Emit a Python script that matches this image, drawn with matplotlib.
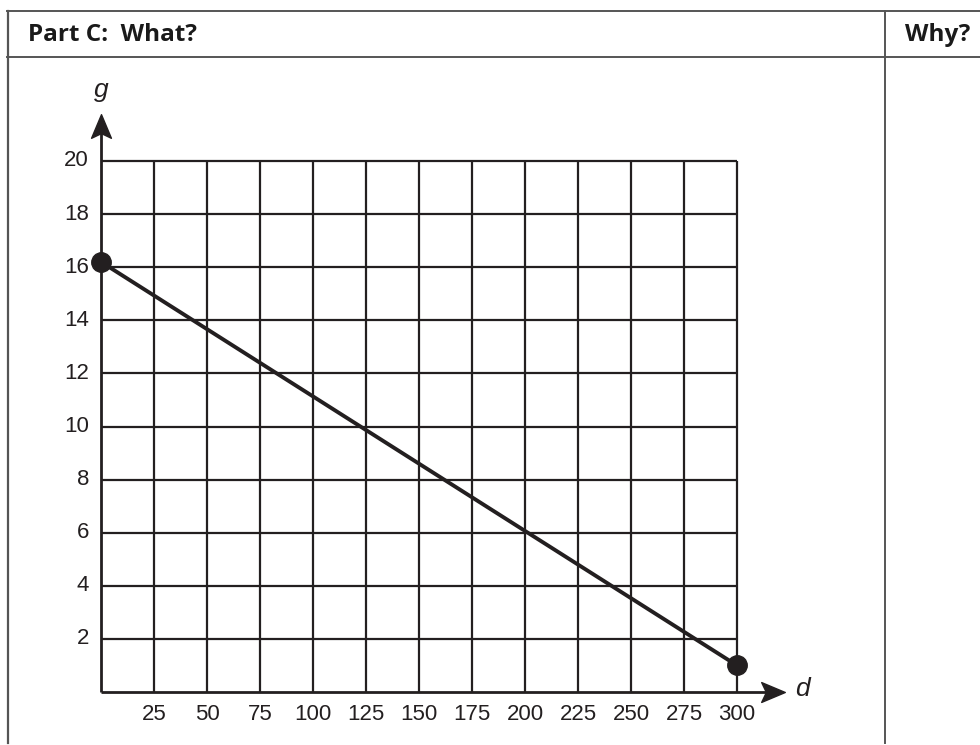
import matplotlib
matplotlib.use("Agg")
import matplotlib.pyplot as plt
from matplotlib.path import Path
from matplotlib import font_manager

# Data
d_ticks = [25, 50, 75, 100, 125, 150, 175, 200, 225, 250, 275, 300]
g_ticks = [2, 4, 6, 8, 10, 12, 14, 16, 18, 20]
line_d = [0, 300]
line_g = [16.2, 1]

W, H = 980, 745
fig = plt.figure(figsize=(W / 100, H / 100), dpi=100)

ink = "#231f20"
frame = "#555555"

def pick(fams):
    names = {f.name for f in font_manager.fontManager.ttflist}
    for f in fams:
        if f in names:
            return f
    return "DejaVu Sans"

head_font = pick(["Open Sans", "DejaVu Sans"])
num_font = pick(["Liberation Sans", "DejaVu Sans"])

# Table frame in pixel coordinates
bg = fig.add_axes([0, 0, 1, 1])
bg.set_xlim(0, W)
bg.set_ylim(H, 0)
bg.axis("off")
lw_frame = 1.4
bg.plot([7, W], [11, 11], color=frame, lw=lw_frame)
bg.plot([7, W], [57, 57], color=frame, lw=lw_frame)
bg.plot([7.5, 7.5], [11, 743], color=frame, lw=lw_frame + 0.2)
bg.plot([885, 885], [11, 743], color=frame, lw=lw_frame)
bg.text(28, 35, "Part C:  What?", fontsize=17.5, fontweight="bold",
        family=head_font, color="#1a1a1a", va="center", ha="left")
bg.text(905, 35, "Why?", fontsize=17.5, fontweight="bold",
        family=head_font, color="#1a1a1a", va="center", ha="left")

# Graph axes: d 0..300 -> px 101..737, g 0..20 -> px 692..161
x0, x1 = 101, 737
y0, y1 = 692, 161
ax = fig.add_axes([x0 / W, (H - y0) / H, (x1 - x0) / W, (y0 - y1) / H])
ax.set_xlim(0, 300)
ax.set_ylim(0, 20)
ax.axis("off")

px_per_d = (x1 - x0) / 300
px_per_g = (y0 - y1) / 20

for d in d_ticks:
    ax.plot([d, d], [0, 20], color=ink, lw=1.6, clip_on=False, solid_capstyle="butt")
for g in g_ticks:
    ax.plot([0, 300], [g, g], color=ink, lw=1.6, clip_on=False, solid_capstyle="butt")

# Axes with arrowheads
x_tip = (786 - x0) / px_per_d
y_tip = (y0 - 114) / px_per_g
ax.plot([0, x_tip - 8], [0, 0], color=ink, lw=2.0, clip_on=False, solid_capstyle="butt")
ax.plot([0, 0], [0, y_tip - 0.6], color=ink, lw=2.0, clip_on=False, solid_capstyle="butt")

head = Path([(0, 0.5), (-0.42, -0.5), (0, -0.3), (0.42, -0.5), (0, 0.5)],
            [Path.MOVETO, Path.LINETO, Path.LINETO, Path.LINETO, Path.CLOSEPOLY])
ax.plot([0], [y_tip - 0.45], marker=head, markersize=17, color=ink, clip_on=False)
head_r = head.transformed(matplotlib.transforms.Affine2D().rotate_deg(-90))
ax.plot([x_tip - 6], [0], marker=head_r, markersize=17, color=ink, clip_on=False)

ax.text(0, (y0 - 90) / px_per_g, "g", fontsize=19, style="italic", family=num_font,
        ha="center", va="center", color=ink)
ax.text((802 - x0) / px_per_d, (y0 - 689) / px_per_g, "d", fontsize=19, style="italic",
        family=num_font, ha="center", va="center", color=ink)

# Tick labels
for d in d_ticks:
    ax.text(d, -(715 - y0) / px_per_g, str(d), fontsize=16, family=num_font,
            ha="center", va="center", color=ink)
for g in g_ticks:
    ax.text(-(x0 - 89) / px_per_d, g, str(g), fontsize=16, family=num_font,
            ha="right", va="center", color=ink)

# Line and endpoints
ax.plot(line_d, line_g, color=ink, lw=2.8, clip_on=False, solid_capstyle="round")
ax.plot(line_d, line_g, "o", color=ink, markersize=14, clip_on=False)

fig.savefig("out.png", dpi=100)
